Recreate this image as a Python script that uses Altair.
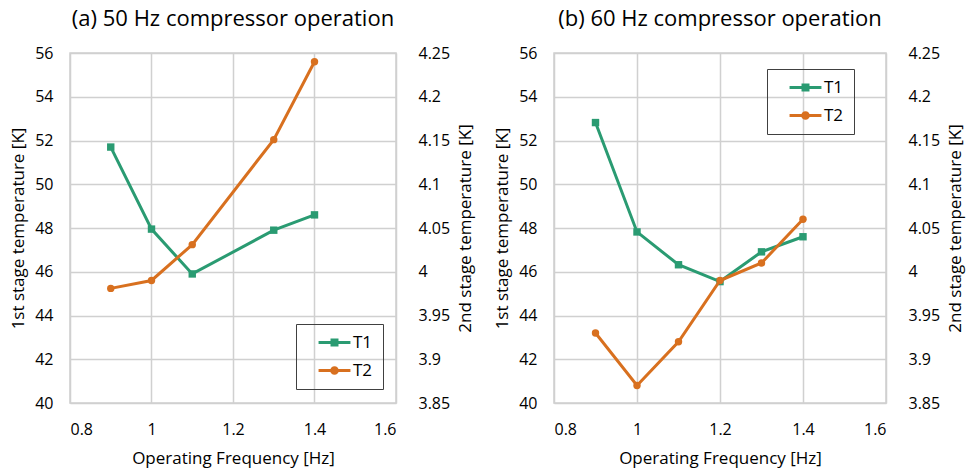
import altair as alt
import pandas as pd

# Panel (a): 50 Hz
freq_a = [0.9, 1.0, 1.1, 1.3, 1.4]
t1_a = [51.7, 47.95, 45.9, 47.9, 48.6]
t2_a = [3.981, 3.990, 4.031, 4.151, 4.240]

# Panel (b): 60 Hz
freq_b = [0.9, 1.0, 1.1, 1.2, 1.3, 1.4]
t1_b = [52.82, 47.82, 46.32, 45.55, 46.91, 47.6]
t2_b = [3.930, 3.870, 3.920, 3.990, 4.010, 4.060]

titles = ["(a) 50 Hz compressor operation", "(b) 60 Hz compressor operation"]
series = ["T1", "T2"]
colors = ["#2A9B72", "#D8701F"]

FONT = "Open Sans"
GRID = "#D0D0D0"

# legend glyphs: line segment with marker in the middle
T1_PATH = ("M-2.2,-0.2H-0.5V0.2H-2.2Z M0.5,-0.2H2.2V0.2H0.5Z "
           "M-0.55,-0.55H0.55V0.55H-0.55Z")
T2_PATH = ("M-2.2,-0.2H-0.5V0.2H-2.2Z M0.5,-0.2H2.2V0.2H0.5Z "
           "M-0.6,0A0.6,0.6,0,1,1,0.6,0A0.6,0.6,0,1,1,-0.6,0Z")


def long_df(freq, t1, t2):
    rows = []
    for f, v in zip(freq, t1):
        rows.append({"freq": f, "series": "T1", "value": v})
    for f, v in zip(freq, t2):
        rows.append({"freq": f, "series": "T2", "value": v})
    return pd.DataFrame(rows)


color_scale = alt.Scale(domain=series, range=colors)


def panel(freq, t1, t2, title, width, legend_x, legend_y):
    df = long_df(freq, t1, t2)
    base = alt.Chart(df)
    x = alt.X("freq:Q", title="Operating Frequency [Hz]",
              scale=alt.Scale(domain=[0.8, 1.6], nice=False),
              axis=alt.Axis(values=[0.8, 1.0, 1.2, 1.4, 1.6],
                            labelExpr="datum.value == 1 ? '1' : format(datum.value, '.1f')"))

    def layer(name, domain, axis, shape):
        b = base.transform_filter(alt.datum.series == name)
        y = alt.Y("value:Q", scale=alt.Scale(domain=domain, nice=False, zero=False), axis=axis)
        line = b.mark_line(strokeWidth=3).encode(
            x=x, y=y,
            color=alt.Color("series:N", scale=color_scale, legend=None))
        pts = b.mark_point(filled=True, opacity=1, size=55, shape=shape).encode(
            x=x, y=y,
            color=alt.Color("series:N", scale=color_scale, legend=None))
        return alt.layer(line, pts)

    legend = alt.Legend(title=None, orient="none", legendX=legend_x, legendY=legend_y,
                        direction="vertical", strokeColor="#404040", padding=10,
                        labelFontSize=17, labelFont=FONT, labelColor="#000000",
                        symbolSize=210, rowPadding=10, labelOffset=10, symbolOffset=20,
                        symbolOpacity=1, symbolStrokeWidth=0)
    leg_layer = base.transform_filter("false").mark_point(filled=True, opacity=1).encode(
        color=alt.Color("series:N", scale=color_scale, legend=legend),
        shape=alt.Shape("series:N", scale=alt.Scale(domain=series, range=[T1_PATH, T2_PATH]),
                        legend=legend),
    )

    left_axis = alt.Axis(title="1st stage temperature [K]", values=list(range(40, 57, 2)),
                         orient="left")
    right_axis = alt.Axis(title="2nd stage temperature [K]", orient="right",
                          values=[3.85, 3.9, 3.95, 4.0, 4.05, 4.1, 4.15, 4.2, 4.25],
                          labelExpr="format(datum.value, '~g')", grid=False,
                          labelAlign="left", labelPadding=22,
                          titleAngle=270, titleBaseline="top", titlePadding=8)
    l1 = layer("T1", [40, 56], left_axis, "square")
    l2 = layer("T2", [3.85, 4.25], right_axis, "circle")
    return alt.layer(leg_layer, l1, l2).resolve_scale(y="independent").properties(
        width=width, height=350,
        title=alt.TitleParams(title, fontSize=22, font=FONT, fontWeight="normal",
                              color="#000000", offset=14, anchor="middle"))


pa = panel(freq_a, t1_a, t2_a, titles[0], 326, 226, 271)
pb = panel(freq_b, t1_b, t2_b, titles[1], 332, 213, 16)

chart = alt.hconcat(pa, pb, spacing=158, bounds="flush").resolve_scale(
    color="independent", shape="independent"
).properties(
    autosize=alt.AutoSizeParams(type="pad"),
    padding={"left": 8, "top": 7, "right": 5, "bottom": 5},
    background="white",
).configure_view(
    stroke=GRID, strokeWidth=1.5
).configure_axis(
    grid=True, gridColor=GRID, gridWidth=1.5,
    domain=False, ticks=False,
    labelFont=FONT, labelFontSize=16, labelColor="#000000", labelPadding=17,
    titleFont=FONT, titleFontSize=17, titleFontWeight="normal", titleColor="#000000",
).configure_axisX(
    labelPadding=18, titlePadding=13
).configure_axisY(
    titlePadding=7
)

chart.save("out.html", embed_options={"renderer": "svg", "actions": False})
